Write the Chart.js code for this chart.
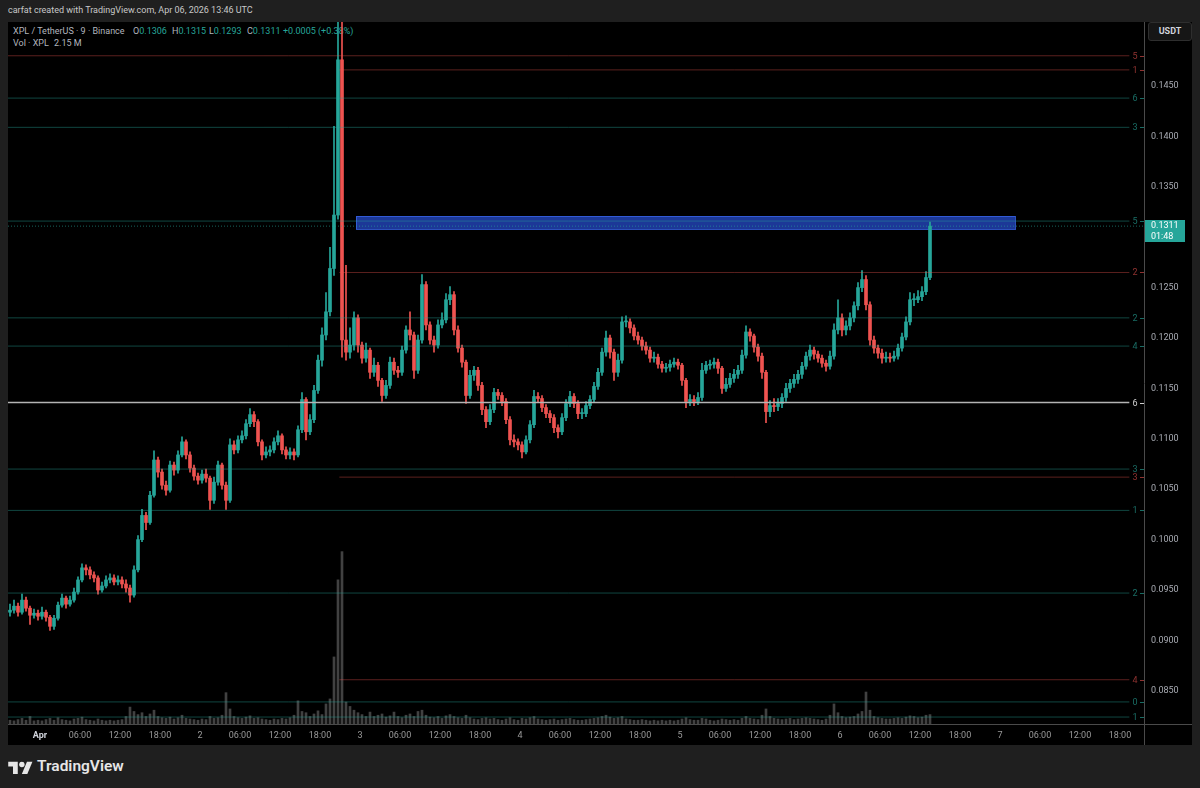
<!DOCTYPE html>
<html>
<head>
<meta charset="utf-8">
<title>XPL / TetherUS 9m</title>
<script src="https://cdn.jsdelivr.net/npm/chart.js@4.4.1/dist/chart.umd.min.js"></script>
<style>
  html, body { margin: 0; padding: 0; width: 1200px; height: 788px; overflow: hidden; background: #1f1f1f; font-family: Roboto, "Noto Sans", sans-serif; }
  #title { position: absolute; left: 8px; top: 5px; font-size: 9px; color: #c8c8c8; white-space: nowrap; }
  #panel { position: absolute; left: 8px; top: 22px; width: 1184px; height: 723px; background: #000; }
  #panel canvas { position: absolute; left: 0; top: 0; z-index: 1; }
  .lg { position: absolute; font-size: 9px; line-height: 12px; color: #b2b5be; white-space: nowrap; z-index: 0; }
  .v { color: #26a69a; }
  #usdt { position: absolute; left: 1148px; top: 22px; width: 42px; height: 17px; border: 1px solid #2e2e2e; border-radius: 3px; background: #161616; color: #d1d4dc; font-size: 9px; font-weight: bold; text-align: center; line-height: 17px; z-index: 2; }
  #footer { position: absolute; left: 8px; top: 757px; height: 18px; color: #e6e6e6; font-size: 15.5px; font-weight: 600; white-space: nowrap; }
  #footer svg { position: absolute; left: 0; top: 2px; }
  #footer span { position: absolute; left: 29px; top: 0; line-height: 18px; }
</style>
</head>
<body>
<div id="title">carfat created with TradingView.com, Apr 06, 2026 13:46 UTC</div>
<div id="panel">
  <div class="lg" style="left:5px;top:3px">XPL / TetherUS · 9 · Binance</div>
  <div class="lg" style="left:125px;top:3px">O<span class="v">0.1306</span></div>
  <div class="lg" style="left:164px;top:3px">H<span class="v">0.1315</span></div>
  <div class="lg" style="left:201px;top:3px">L<span class="v">0.1293</span></div>
  <div class="lg" style="left:239px;top:3px">C<span class="v">0.1311</span></div>
  <div class="lg v" style="left:275px;top:3px">+0.0005 (+0.38%)</div>
  <div class="lg" style="left:5px;top:15px">Vol · XPL</div>
  <div class="lg" style="left:46px;top:15px">2.15 M</div>
  <canvas id="chart" width="1184" height="723"></canvas>
</div>
<div id="usdt">USDT</div>
<div id="footer">
  <svg width="25" height="15" viewBox="0 0 36 22"><path fill="#e6e6e6" d="M14 22H7V11H0V4h14v18z"/><circle fill="#e6e6e6" cx="20" cy="8" r="4"/><path fill="#e6e6e6" d="M28 22h-8l7.5-18h8z"/></svg>
  <span>TradingView</span>
</div>
<script>
// 36 minute bars (4 x 9m candles) read off the snapshot
// prices are in 0.0001 USDT, volumes in millions of XPL
const firstBarHour = -4.5;   // hours after Apr 1 00:00 UTC, centre of the first bar
const barStepHours = 0.6;

const opens = [
  928, 930, 934, 928, 940, 932, 925, 927, 924, 928,
  923, 914, 922, 935, 942, 936, 940, 948, 960, 972,
  970, 965, 962, 950, 954, 960, 962, 958, 960, 956,
  952, 945, 970, 1000, 1024, 1017, 1044, 1079, 1067, 1054,
  1049, 1074, 1069, 1084, 1097, 1084, 1071, 1063, 1059, 1065,
  1061, 1039, 1057, 1074, 1054, 1039, 1094, 1089, 1099, 1103,
  1115, 1124, 1117, 1097, 1084, 1087, 1089, 1097, 1103, 1089,
  1084, 1087, 1084, 1109, 1139, 1107, 1119, 1148, 1178, 1203,
  1226, 1269, 1322, 1476, 1198, 1186, 1193, 1220, 1193, 1180,
  1188, 1166, 1173, 1158, 1143, 1153, 1176, 1168, 1166, 1188,
  1208, 1203, 1168, 1198, 1253, 1213, 1198, 1193, 1213, 1218,
  1238, 1243, 1208, 1190, 1176, 1143, 1163, 1168, 1153, 1129,
  1117, 1129, 1146, 1143, 1137, 1119, 1099, 1097, 1094, 1087,
  1099, 1114, 1142, 1140, 1131, 1125, 1121, 1111, 1107, 1121,
  1135, 1142, 1135, 1125, 1125, 1133, 1139, 1152, 1166, 1186,
  1200, 1186, 1166, 1178, 1216, 1216, 1210, 1202, 1198, 1192,
  1188, 1180, 1181, 1174, 1170, 1171, 1174, 1176, 1173, 1158,
  1137, 1139, 1137, 1141, 1168, 1173, 1174, 1176, 1170, 1150,
  1154, 1160, 1164, 1168, 1183, 1206, 1202, 1191, 1182, 1166,
  1127, 1133, 1132, 1135, 1141, 1150, 1155, 1159, 1164, 1172,
  1182, 1188, 1184, 1180, 1175, 1172, 1182, 1208, 1220, 1208,
  1212, 1220, 1232, 1250, 1258, 1233, 1198, 1190, 1185, 1180,
  1181, 1180, 1182, 1190, 1201, 1216, 1238, 1238, 1241, 1246, 1260
];
const highs = [
  936, 940, 937, 946, 943, 934, 931, 930, 933, 930,
  925, 925, 938, 946, 944, 944, 952, 963, 976, 975,
  973, 968, 964, 958, 964, 966, 965, 964, 963, 960,
  955, 974, 1004, 1030, 1027, 1048, 1088, 1082, 1070, 1058,
  1078, 1077, 1088, 1102, 1099, 1087, 1074, 1066, 1069, 1070,
  1063, 1062, 1078, 1076, 1057, 1100, 1098, 1103, 1108, 1119,
  1130, 1127, 1119, 1099, 1092, 1093, 1101, 1108, 1105, 1092,
  1091, 1090, 1113, 1146, 1141, 1124, 1153, 1183, 1210, 1245,
  1290, 1410, 1560, 1520, 1272, 1210, 1226, 1223, 1196, 1195,
  1190, 1180, 1176, 1160, 1158, 1181, 1180, 1172, 1192, 1212,
  1226, 1206, 1203, 1263, 1256, 1216, 1202, 1218, 1225, 1244,
  1251, 1246, 1212, 1193, 1178, 1168, 1172, 1171, 1156, 1132,
  1134, 1150, 1149, 1146, 1140, 1122, 1104, 1100, 1097, 1103,
  1118, 1148, 1146, 1143, 1134, 1128, 1124, 1114, 1125, 1139,
  1147, 1145, 1138, 1130, 1137, 1143, 1156, 1170, 1190, 1207,
  1203, 1189, 1184, 1221, 1222, 1219, 1213, 1206, 1201, 1196,
  1191, 1186, 1184, 1177, 1175, 1178, 1180, 1179, 1175, 1160,
  1144, 1143, 1146, 1175, 1177, 1178, 1180, 1179, 1172, 1160,
  1165, 1169, 1173, 1188, 1212, 1209, 1204, 1194, 1185, 1168,
  1138, 1140, 1140, 1145, 1155, 1159, 1164, 1168, 1176, 1186,
  1193, 1191, 1187, 1183, 1178, 1187, 1214, 1238, 1224, 1217,
  1225, 1236, 1255, 1267, 1262, 1236, 1202, 1193, 1189, 1186,
  1185, 1187, 1194, 1205, 1221, 1245, 1244, 1247, 1251, 1266, 1315
];
const lows = [
  924, 927, 924, 926, 929, 916, 922, 920, 921, 919,
  910, 911, 920, 933, 932, 934, 938, 946, 958, 965,
  961, 958, 946, 948, 952, 957, 955, 955, 952, 948,
  938, 943, 968, 998, 1010, 1015, 1042, 1062, 1050, 1044,
  1047, 1064, 1066, 1082, 1080, 1067, 1059, 1055, 1056, 1057,
  1030, 1036, 1054, 1050, 1030, 1037, 1085, 1086, 1096, 1100,
  1112, 1112, 1093, 1079, 1081, 1083, 1086, 1094, 1085, 1080,
  1080, 1079, 1082, 1106, 1099, 1104, 1116, 1145, 1172, 1198,
  1222, 1262, 1318, 1181, 1178, 1180, 1188, 1186, 1175, 1176,
  1160, 1162, 1152, 1137, 1140, 1150, 1164, 1161, 1163, 1185,
  1198, 1160, 1165, 1195, 1208, 1194, 1186, 1190, 1210, 1215,
  1233, 1203, 1186, 1171, 1135, 1140, 1158, 1148, 1124, 1111,
  1114, 1126, 1139, 1133, 1115, 1094, 1092, 1089, 1081, 1085,
  1096, 1111, 1136, 1127, 1121, 1116, 1106, 1101, 1104, 1118,
  1132, 1131, 1120, 1120, 1122, 1130, 1136, 1149, 1163, 1182,
  1180, 1158, 1162, 1175, 1211, 1205, 1198, 1194, 1188, 1184,
  1176, 1176, 1170, 1166, 1166, 1167, 1171, 1169, 1153, 1131,
  1133, 1133, 1134, 1138, 1165, 1169, 1170, 1165, 1145, 1147,
  1151, 1156, 1160, 1165, 1180, 1197, 1186, 1177, 1160, 1116,
  1122, 1127, 1128, 1131, 1137, 1146, 1151, 1155, 1160, 1169,
  1178, 1179, 1176, 1171, 1167, 1169, 1179, 1204, 1202, 1203,
  1208, 1216, 1228, 1246, 1228, 1193, 1185, 1180, 1175, 1176,
  1176, 1177, 1179, 1187, 1198, 1213, 1232, 1235, 1237, 1243, 1258
];
const closes = [
  930, 934, 928, 940, 932, 925, 927, 924, 928, 923,
  914, 922, 935, 942, 936, 940, 948, 960, 972, 970,
  965, 962, 950, 954, 960, 962, 958, 960, 956, 952,
  945, 970, 1000, 1024, 1017, 1044, 1079, 1067, 1054, 1049,
  1074, 1069, 1084, 1097, 1084, 1071, 1063, 1059, 1065, 1061,
  1039, 1057, 1074, 1054, 1039, 1094, 1089, 1099, 1103, 1115,
  1124, 1117, 1097, 1084, 1087, 1089, 1097, 1103, 1089, 1084,
  1087, 1084, 1109, 1139, 1107, 1119, 1148, 1178, 1203, 1226,
  1269, 1322, 1476, 1198, 1186, 1193, 1220, 1193, 1180, 1188,
  1166, 1173, 1158, 1143, 1153, 1176, 1168, 1166, 1188, 1208,
  1203, 1168, 1198, 1253, 1213, 1198, 1193, 1213, 1218, 1238,
  1243, 1208, 1190, 1176, 1143, 1163, 1168, 1153, 1129, 1117,
  1129, 1146, 1143, 1137, 1119, 1099, 1097, 1094, 1087, 1099,
  1114, 1142, 1140, 1131, 1125, 1121, 1111, 1107, 1121, 1135,
  1142, 1135, 1125, 1125, 1133, 1139, 1152, 1166, 1186, 1200,
  1186, 1166, 1178, 1216, 1216, 1210, 1202, 1198, 1192, 1188,
  1180, 1181, 1174, 1170, 1171, 1174, 1176, 1173, 1158, 1137,
  1139, 1137, 1141, 1168, 1173, 1174, 1176, 1170, 1150, 1154,
  1160, 1164, 1168, 1183, 1206, 1202, 1191, 1182, 1166, 1127,
  1133, 1132, 1135, 1141, 1150, 1155, 1159, 1164, 1172, 1182,
  1188, 1184, 1180, 1175, 1172, 1182, 1208, 1220, 1208, 1212,
  1220, 1232, 1250, 1258, 1233, 1198, 1190, 1185, 1180, 1181,
  1180, 1182, 1190, 1201, 1216, 1238, 1238, 1241, 1246, 1260, 1311
];
const volumes = [
  6, 5, 7, 9, 6, 12, 5, 6, 5, 7,
  9, 6, 10, 7, 6, 5, 8, 9, 11, 7,
  6, 5, 8, 6, 5, 6, 5, 6, 7, 12,
  27, 20, 15, 18, 12, 16, 22, 12, 10, 9,
  11, 8, 10, 14, 9, 8, 7, 6, 8, 7,
  12, 9, 10, 14, 50, 24, 12, 10, 9, 11,
  13, 9, 10, 8, 7, 6, 8, 7, 9, 8,
  10, 14, 37, 20, 18, 12, 16, 21, 15, 32,
  40, 107, 230, 275, 35, 28, 22, 18, 15, 12,
  19, 12, 14, 16, 11, 13, 19, 12, 10, 14,
  16, 12, 20, 22, 14, 11, 10, 12, 9, 13,
  15, 12, 10, 9, 14, 10, 8, 7, 9, 10,
  8, 9, 7, 6, 8, 10, 7, 6, 9, 8,
  10, 12, 8, 7, 6, 7, 8, 6, 7, 8,
  9, 7, 6, 6, 7, 8, 9, 10, 12, 14,
  11, 9, 10, 12, 8, 7, 6, 6, 7, 6,
  5, 6, 5, 6, 5, 6, 5, 6, 8, 10,
  7, 6, 6, 9, 8, 6, 5, 6, 8, 7,
  6, 7, 6, 9, 12, 9, 8, 7, 14, 24,
  12, 9, 8, 7, 8, 9, 7, 8, 9, 10,
  9, 8, 7, 6, 8, 14, 32, 18, 12, 10,
  11, 12, 16, 20, 51, 22, 12, 10, 9, 8,
  8, 9, 10, 9, 11, 13, 12, 10, 11, 14, 15
];

// axis labels
const timeTickLabels = ["Apr", "06:00", "12:00", "18:00", "2", "06:00", "12:00", "18:00",
  "3", "06:00", "12:00", "18:00", "4", "06:00", "12:00", "18:00",
  "5", "06:00", "12:00", "18:00", "6", "06:00", "12:00", "18:00",
  "7", "06:00", "12:00", "18:00"];
const priceTickLabels = ["0.0850", "0.0900", "0.0950", "0.1000", "0.1050", "0.1100", "0.1150",
  "0.1200", "0.1250", "0.1300", "0.1350", "0.1400", "0.1450"];

// horizontal levels drawn on the chart
const levelPrices = [0.1480, 0.1466, 0.1438, 0.1409, 0.1316, 0.1265, 0.1220, 0.1192,
  0.1136, 0.1070, 0.1062, 0.1029, 0.0947, 0.0861, 0.0839, 0.0824];
const levelLabels = ["5", "1", "6", "3", "5", "2", "2", "4", "6", "3", "3", "1", "2", "4", "0", "1"];
const levelKinds = ["red", "red", "green", "green", "green", "red", "green", "green",
  "white", "green", "red", "green", "green", "red", "green", "green"];
const levelStartHours = [-4.8, 44.9, -4.8, -4.8, -4.8, 44.9, -4.8, -4.8,
  -4.8, -4.8, 44.9, -4.8, -4.8, 44.9, -4.8, -4.8];
const levelEndHour = 163.4;

// blue zone
const zoneStartHour = 47.4, zoneEndHour = 146.25;
const zoneLow = 0.1308, zoneHigh = 0.1321;

const countdown = "01:48";

// view range
const xMin = -4.8, xMax = 165.6;
const yMin = 0.08171, yMax = 0.15135;

const P = v => v / 10000;
const UP = '#26a69a', DOWN = '#ef5350';
const barHours = closes.map((c, i) => firstBarHour + i * barStepHours);
const candleColors = closes.map((c, i) => c >= opens[i] ? UP : DOWN);
const lastPrice = P(closes[closes.length - 1]);

const lineColors = { red: 'rgba(239,83,80,0.38)', green: 'rgba(38,166,154,0.42)', white: '#b4b4b4' };
const labelColors = { red: 'rgba(239,83,80,0.6)', green: 'rgba(38,166,154,0.65)', white: '#d0d0d0' };

const datasets = [];
datasets.push({
  type: 'bar', yAxisID: 'yVol', order: 6, grouped: false,
  data: volumes.map((v, i) => ({ x: barHours[i], y: v })),
  backgroundColor: 'rgba(170,170,170,0.38)', barThickness: 2
});
datasets.push({
  type: 'bar', order: 5, grouped: false, clip: 0,
  data: lows.map((l, i) => ({ x: barHours[i], y: [P(l), P(highs[i])] })),
  backgroundColor: candleColors, barThickness: 1
});
datasets.push({
  type: 'bar', order: 4, grouped: false, clip: 0,
  data: opens.map((o, i) => ({ x: barHours[i], y: [P(o), P(closes[i])] })),
  backgroundColor: candleColors, barThickness: 3, minBarLength: 1
});
levelPrices.forEach((p, i) => {
  datasets.push({
    type: 'line', order: 2,
    data: [{ x: levelStartHours[i], y: p }, { x: levelEndHour, y: p }],
    borderColor: lineColors[levelKinds[i]],
    borderWidth: levelKinds[i] === 'white' ? 1.5 : 1,
    pointRadius: 0
  });
});
datasets.push({
  type: 'line', order: 1,
  data: [{ x: xMin, y: lastPrice }, { x: xMax, y: lastPrice }],
  borderColor: 'rgba(38,166,154,0.6)', borderWidth: 1, borderDash: [1, 2], pointRadius: 0
});

const overlay = {
  id: 'overlay',
  beforeDatasetsDraw(chart) {
    const { ctx, scales: { x, y } } = chart;
    const x0 = x.getPixelForValue(zoneStartHour), x1 = x.getPixelForValue(zoneEndHour);
    const y0 = y.getPixelForValue(zoneHigh), y1 = y.getPixelForValue(zoneLow);
    ctx.save();
    ctx.fillStyle = 'rgba(33,66,178,0.85)';
    ctx.fillRect(x0, y0, x1 - x0, y1 - y0);
    ctx.strokeStyle = 'rgba(56,100,230,0.8)';
    ctx.lineWidth = 1;
    ctx.strokeRect(Math.round(x0) + 0.5, Math.round(y0) + 0.5, Math.round(x1 - x0), Math.round(y1 - y0));
    ctx.restore();
  },
  afterDraw(chart) {
    const { ctx, chartArea: ca, scales: { y } } = chart;
    ctx.save();
    // axis separators
    ctx.strokeStyle = '#4a4a4a';
    ctx.lineWidth = 1;
    ctx.beginPath();
    ctx.moveTo(ca.right + 0.5, 0); ctx.lineTo(ca.right + 0.5, chart.height);
    ctx.moveTo(0, ca.bottom + 0.5); ctx.lineTo(chart.width, ca.bottom + 0.5);
    ctx.stroke();
    // level numbers at the right end of each line
    ctx.font = '9px Roboto, "Noto Sans", sans-serif';
    ctx.textAlign = 'center';
    ctx.textBaseline = 'middle';
    levelPrices.forEach((p, i) => {
      const py = Math.round(y.getPixelForValue(p)) + 0.5;
      const kind = levelKinds[i];
      ctx.fillStyle = labelColors[kind];
      ctx.fillText(levelLabels[i], ca.right - 9, py + 0.5);
      ctx.strokeStyle = labelColors[kind];
      ctx.beginPath();
      ctx.moveTo(ca.right - 4, py); ctx.lineTo(ca.right, py);
      ctx.stroke();
    });
    // last price tag
    const py = y.getPixelForValue(lastPrice);
    ctx.fillStyle = UP;
    ctx.fillRect(ca.right + 1, Math.round(py) - 6, 40, 22);
    ctx.fillStyle = '#ffffff';
    ctx.textAlign = 'left';
    ctx.fillText(lastPrice.toFixed(4), ca.right + 7, py);
    ctx.fillText(countdown, ca.right + 7, py + 10.5);
    ctx.restore();
  }
};

new Chart(document.getElementById('chart'), {
  type: 'bar',
  data: { datasets },
  plugins: [overlay],
  options: {
    responsive: false,
    animation: false,
    events: [],
    devicePixelRatio: 1,
    layout: { padding: 0 },
    plugins: { legend: { display: false }, tooltip: { enabled: false } },
    scales: {
      x: {
        type: 'linear', min: xMin, max: xMax, offset: false,
        grid: { display: false, drawTicks: false },
        border: { display: false },
        afterBuildTicks: s => { s.ticks = timeTickLabels.map((t, i) => ({ value: i * 6 })); },
        ticks: {
          autoSkip: false, maxRotation: 0, padding: 6,
          callback: (v, i) => timeTickLabels[i],
          color: c => c.index === 0 ? '#d1d4dc' : '#9a9a9a',
          font: c => ({ family: 'Roboto, "Noto Sans", sans-serif', size: 9, weight: c.index === 0 ? 'bold' : 'normal' })
        },
        afterFit: s => { s.height = 21; s.paddingLeft = 0; s.paddingRight = 0; }
      },
      y: {
        position: 'right', min: yMin, max: yMax,
        grid: { display: false, drawTicks: false },
        border: { display: false },
        afterBuildTicks: s => { s.ticks = priceTickLabels.map(t => ({ value: parseFloat(t) })); },
        ticks: {
          padding: 7, color: '#a8abb3',
          font: { family: 'Roboto, "Noto Sans", sans-serif', size: 9 },
          callback: (v, i) => priceTickLabels[i]
        },
        afterFit: s => { s.width = 48; s.paddingTop = 0; s.paddingBottom = 0; }
      },
      yVol: { display: false, min: 0, max: 1120 }
    }
  }
});
</script>
</body>
</html>
